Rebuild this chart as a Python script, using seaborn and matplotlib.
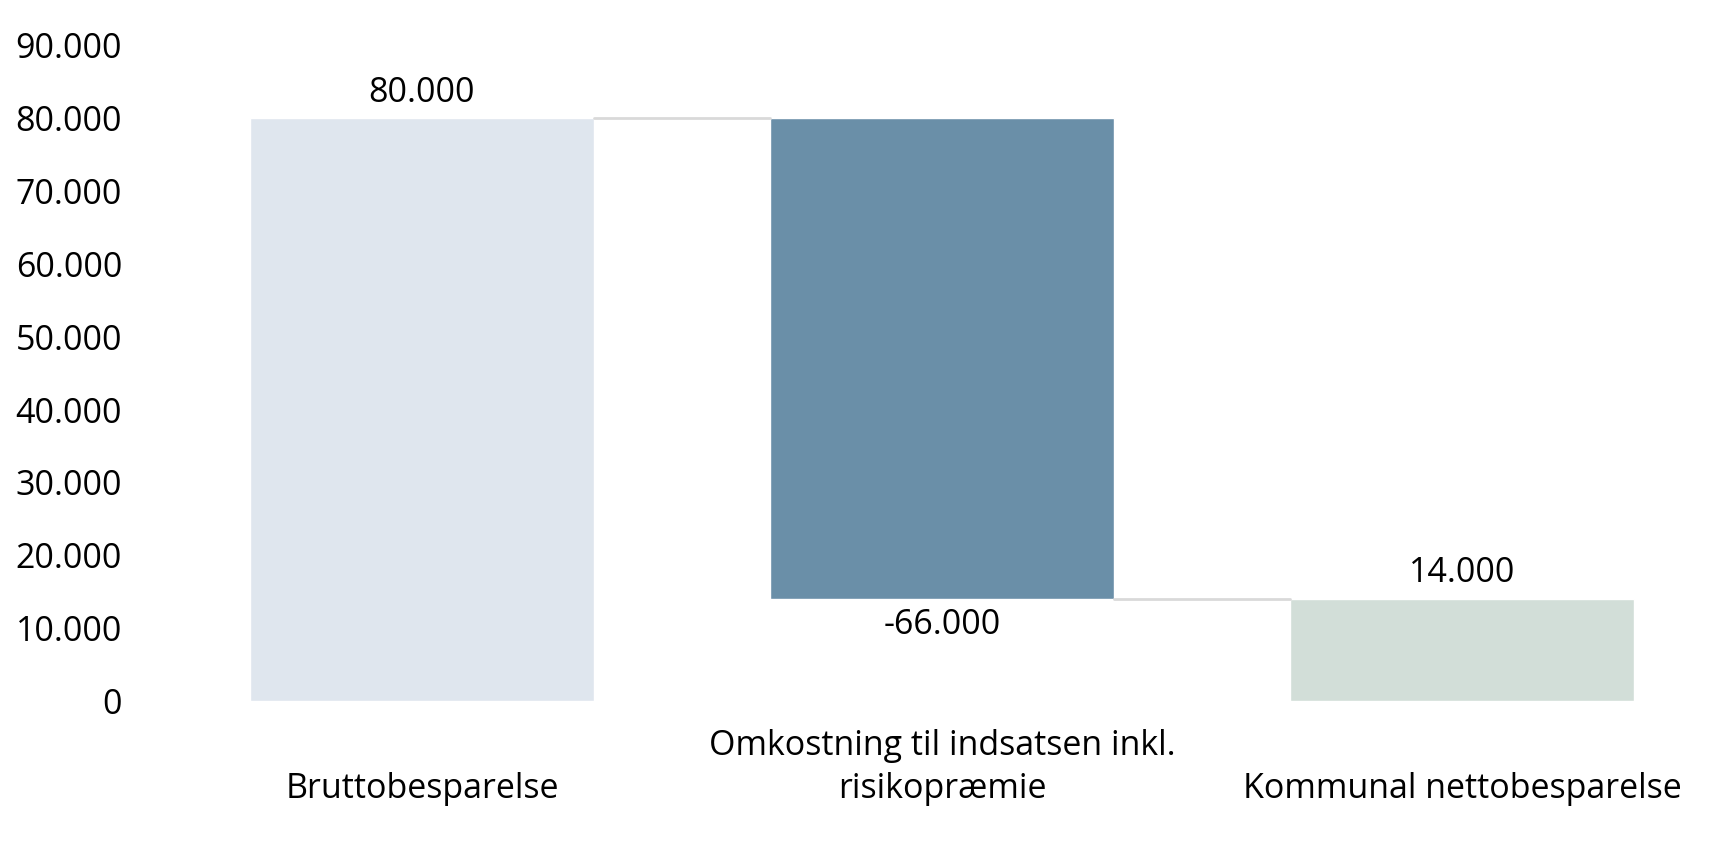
import matplotlib
matplotlib.use("Agg")
import matplotlib.pyplot as plt
import seaborn as sns

categories = ["\nBruttobesparelse", "Omkostning til indsatsen inkl.\nrisikopræmie", "\nKommunal nettobesparelse"]
heights = [80000, 66000, 14000]
bottoms = [0, 14000, 0]
labels = ["80.000", "-66.000", "14.000"]
colors = ["#DFE6EE", "#6A8FA8", "#D2DED8"]
yticks = [0, 10000, 20000, 30000, 40000, 50000, 60000, 70000, 80000, 90000]

sns.set_theme(style="white")
plt.rcParams["font.family"] = ["Open Sans", "DejaVu Sans"]
plt.rcParams["text.color"] = "black"
plt.rcParams["xtick.color"] = "black"
plt.rcParams["ytick.color"] = "black"

fig = plt.figure(figsize=(17.34, 8.58), dpi=100)
ax = fig.add_axes([0.0865, 0.183, 0.9135, 0.764])

for i in range(3):
    sns.barplot(x=[categories[i]], y=[heights[i]], bottom=bottoms[i], order=categories,
                color=colors[i], width=0.663, saturation=1, ax=ax)

hw = 0.663 / 2
ax.plot([0 + hw, 1 - hw], [80000, 80000], color="#D9D9D9", lw=2, zorder=1)
ax.plot([1 + hw, 2 - hw], [14000, 14000], color="#D9D9D9", lw=2, zorder=1)

fs = 24.5
ax.text(0, 80000 + 1200, labels[0], ha="center", va="bottom", fontsize=fs)
ax.text(1, 14000 - 1200, labels[1], ha="center", va="top", fontsize=fs)
ax.text(2, 14000 + 1200, labels[2], ha="center", va="bottom", fontsize=fs)

ax.set_xlim(-0.523, 2.523)
ax.set_ylim(0, 90000)
ax.set_yticks(yticks)
ax.set_yticklabels([f"{v:,}".replace(",", ".") for v in yticks], fontsize=fs)
ax.tick_params(axis="y", length=0, pad=20)
ax.tick_params(axis="x", length=0, pad=20, labelsize=fs)
for lab in ax.get_xticklabels():
    lab.set_linespacing(1.35)
ax.set_xlabel("")
ax.set_ylabel("")
for s in ax.spines.values():
    s.set_visible(False)

fig.savefig("out.png", dpi=100)
